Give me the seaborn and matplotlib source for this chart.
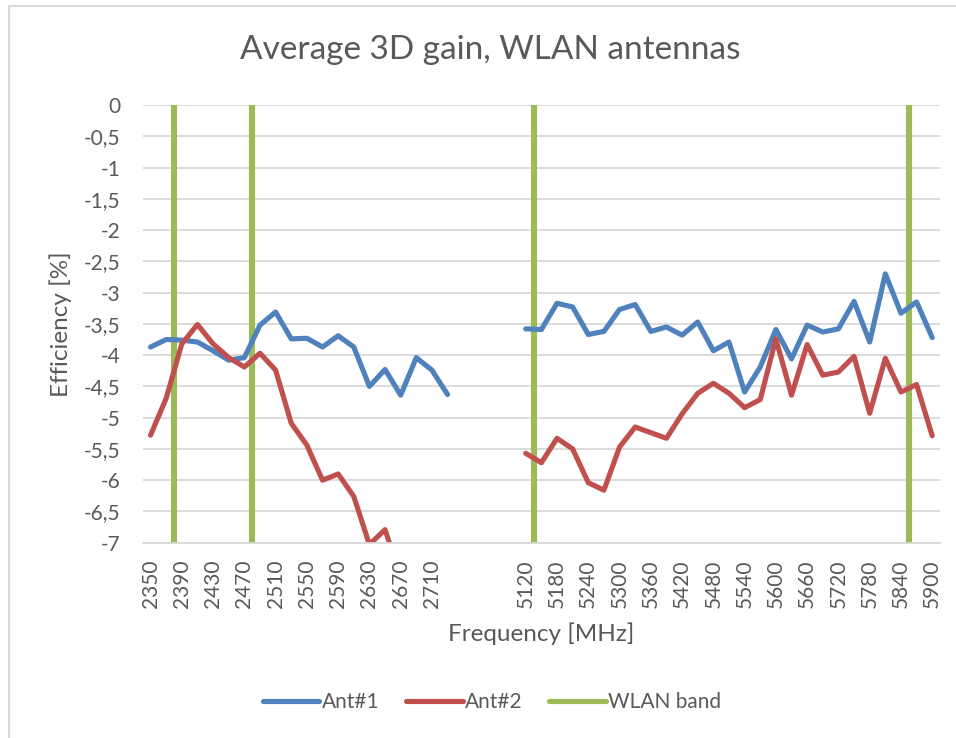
import numpy as np
import pandas as pd
import matplotlib.pyplot as plt
import seaborn as sns
from matplotlib.lines import Line2D
from matplotlib.ticker import FixedLocator, FuncFormatter

# Frequencies (MHz) of the two measured bands
freq_low = [2350, 2370, 2390, 2410, 2430, 2450, 2470, 2490, 2510, 2530,
            2550, 2570, 2590, 2610, 2630, 2650, 2670, 2690, 2710, 2730]
freq_high = [5120, 5150, 5180, 5210, 5240, 5270, 5300, 5330, 5360, 5390,
             5420, 5450, 5480, 5510, 5540, 5570, 5600, 5630, 5660, 5690,
             5720, 5750, 5780, 5810, 5840, 5870, 5900]
n_blank = 4  # empty categories between the bands

ant1_low = [-3.87, -3.75, -3.76, -3.79, -3.93, -4.08, -4.04, -3.52, -3.31, -3.74,
            -3.73, -3.87, -3.69, -3.87, -4.50, -4.23, -4.64, -4.04, -4.24, -4.63]
ant2_low = [-5.28, -4.69, -3.82, -3.51, -3.82, -4.04, -4.19, -3.97, -4.24, -5.09,
            -5.44, -6.00, -5.90, -6.26, -7.03, -6.79, -7.55, -7.85, -8.05, -8.30]
ant1_high = [-3.58, -3.59, -3.17, -3.23, -3.67, -3.62, -3.27, -3.19, -3.62, -3.55,
             -3.68, -3.47, -3.93, -3.79, -4.59, -4.19, -3.59, -4.06, -3.52, -3.63,
             -3.58, -3.14, -3.79, -2.70, -3.33, -3.15, -3.72]
ant2_high = [-5.57, -5.72, -5.33, -5.50, -6.04, -6.16, -5.47, -5.15, -5.24, -5.33,
             -4.94, -4.61, -4.45, -4.61, -4.84, -4.71, -3.74, -4.64, -3.83, -4.32,
             -4.27, -4.02, -4.93, -4.05, -4.59, -4.47, -5.29]

# WLAN band edges as drawn (MHz)
wlan_mhz = [2380, 2480, 5136, 5856]

# Category positions
pos_low = list(range(len(freq_low)))
start_high = len(freq_low) + n_blank
pos_high = list(range(start_high, start_high + len(freq_high)))
cat_labels = [str(f) for f in freq_low] + [''] * n_blank + [str(f) for f in freq_high]

rows = []
for name, low, high in [('Ant#1', ant1_low, ant1_high), ('Ant#2', ant2_low, ant2_high)]:
    for p, v in zip(pos_low, low):
        rows.append((name, 'low', p, v))
    for p, v in zip(pos_high, high):
        rows.append((name, 'high', p, v))
df = pd.DataFrame(rows, columns=['antenna', 'segment', 'pos', 'gain'])

wlan_pos = [np.interp(f, freq_low, pos_low) if f < 4000 else np.interp(f, freq_high, pos_high)
            for f in wlan_mhz]

sns.set_style('white')
plt.rcParams['font.family'] = ['Lato', 'DejaVu Sans']
txt = '#595959'
colors = {'Ant#1': '#4F81BD', 'Ant#2': '#C0504D'}
green = '#9BBB59'

fig = plt.figure(figsize=(9.56, 7.38), dpi=100)
ax = fig.add_axes([0.1493, 0.2646, 0.834, 0.5931])

ax.yaxis.grid(True, color='#d9d9d9', linewidth=1.3)
ax.set_axisbelow(True)

sns.lineplot(data=df, x='pos', y='gain', hue='antenna', units='segment', estimator=None,
             palette=colors, linewidth=3.7, legend=False, ax=ax,
             solid_capstyle='round', solid_joinstyle='round')
ax.vlines(wlan_pos, -7, 0, color=green, linewidth=4.4, zorder=1.5)

ax.set_xlim(-0.5, len(cat_labels) - 0.5)
ax.set_ylim(-7, 0)
ax.yaxis.set_major_locator(FixedLocator(np.arange(-7, 0.01, 0.5)))
ax.yaxis.set_major_formatter(FuncFormatter(lambda v, _: f'{v:g}'.replace('.', ',')))
ax.set_xticks(range(0, len(cat_labels), 2))
ax.set_xticklabels(cat_labels[::2], rotation=90)
ax.tick_params(axis='x', length=0, pad=12, labelsize=15, labelcolor=txt)
ax.tick_params(axis='y', length=0, pad=16, labelsize=15, labelcolor=txt)

for s in ['top', 'right', 'left']:
    ax.spines[s].set_visible(False)
ax.spines['bottom'].set_color('#d9d9d9')
ax.spines['bottom'].set_linewidth(1.3)

ax.set_xlabel('Frequency [MHz]', fontsize=17.5, color=txt)
ax.set_ylabel('Efficiency [%]', fontsize=17.5, color=txt)
ax.xaxis.set_label_coords(0.5, -0.181)
ax.yaxis.set_label_coords(-0.0887, 0.5)

fig.text(490 / 956, 1 - 50 / 738, 'Average 3D gain, WLAN antennas', ha='center', va='center',
         fontsize=24, color=txt)

handles = [Line2D([], [], color=colors['Ant#1'], linewidth=3.7, solid_capstyle='round'),
           Line2D([], [], color=colors['Ant#2'], linewidth=3.7, solid_capstyle='round'),
           Line2D([], [], color=green, linewidth=3.7, solid_capstyle='round')]
fig.legend(handles, ['Ant#1', 'Ant#2', 'WLAN band'], loc='center', ncol=3, frameon=False,
           bbox_to_anchor=(492 / 956, 1 - 702 / 738), fontsize=15, labelcolor=txt,
           handlelength=2.7, handletextpad=0.1, columnspacing=1.3)

# chart border (only top and left visible)
fig.add_artist(Line2D([9 / 956, 9 / 956], [0, 1 - 6 / 738], color='#d9d9d9', linewidth=1.5))
fig.add_artist(Line2D([9 / 956, 1], [1 - 6 / 738, 1 - 6 / 738], color='#d9d9d9', linewidth=1.5))

fig.savefig('out.png', dpi=100)
